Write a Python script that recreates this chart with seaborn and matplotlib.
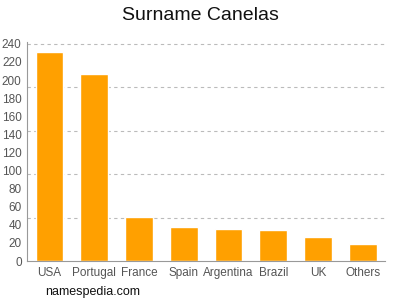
import matplotlib
matplotlib.use("Agg")
import matplotlib.pyplot as plt
import seaborn as sns
import pandas as pd

categories = ["USA", "Portugal", "France", "Spain", "Argentina", "Brazil", "UK", "Others"]
values = [231, 207, 49, 38, 35, 34, 26, 19]
yticks = list(range(0, 241, 20))
grid_vals = [48, 96, 144, 192, 240]

sns.set_style("white")
plt.rcParams['font.family'] = ['Liberation Sans', 'DejaVu Sans']

df = pd.DataFrame({"country": categories, "count": values})

fig = plt.figure(figsize=(4, 3), dpi=100)
ax = fig.add_axes([0.068, 0.13, 0.895, 0.73])
sns.barplot(data=df, x="country", y="count", color="#FFA000", saturation=1, width=0.62, ax=ax)

for g in grid_vals:
    ax.axhline(g, color="#bbbbbb", linestyle=(0, (3, 3)), linewidth=0.8, zorder=0)

ax.set_ylim(0, 242)
ax.set_xlim(-0.5, 7.5)
ax.set_yticks(yticks)
ax.set_xlabel("")
ax.set_ylabel("")
ax.tick_params(axis="both", colors="#999999", labelsize=8.5, length=3, width=0.8, pad=1)
ax.tick_params(axis="x", labelcolor="#555555")
ax.tick_params(axis="y", labelcolor="#555555")
for s in ["top", "right"]:
    ax.spines[s].set_visible(False)
for s in ["left", "bottom"]:
    ax.spines[s].set_color("#999999")
    ax.spines[s].set_linewidth(0.8)

fig.text(0.5, 0.95, "Surname Canelas", ha="center", va="center", fontsize=14, color="#111111")
fig.text(0.113, 0.027, "namespedia.com", ha="left", va="center", fontsize=9, color="#111111")

fig.savefig("out.png", dpi=100)
